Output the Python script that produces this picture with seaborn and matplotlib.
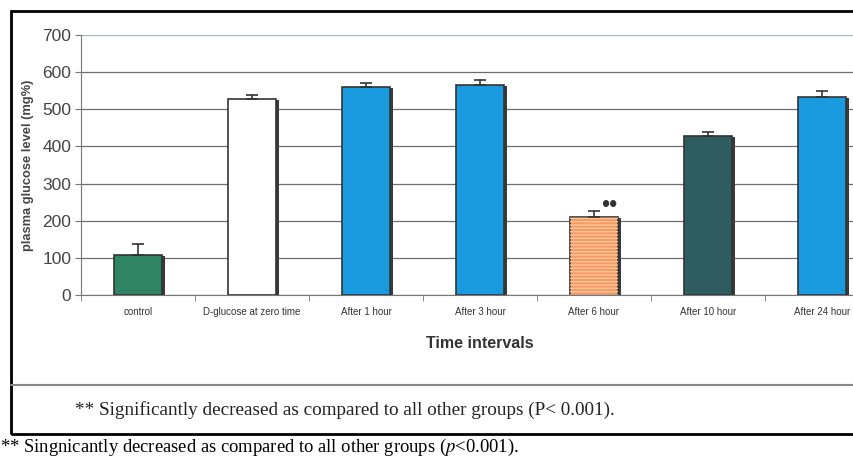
import numpy as np
import pandas as pd
import matplotlib
matplotlib.use('agg')
import seaborn as sns
import matplotlib.pyplot as plt
import matplotlib.patheffects as pe
from matplotlib.patches import Rectangle
from matplotlib.lines import Line2D

groups = ["control", "D-glucose at zero time", "After 1 hour", "After 3 hour",
          "After 6 hour", "After 10 hour", "After 24 hour"]
glucose = [108, 528, 561, 566, 210, 428, 534]
sem = [29, 11, 11, 12, 16, 12, 14]
colors = ["#2f8466", "#ffffff", "#1a9be0", "#1a9be0", "#f79a62", "#2f5c5e", "#1a9be0"]
yticks = [0, 100, 200, 300, 400, 500, 600, 700]


def main(output):
	df = pd.DataFrame({"group": groups, "glucose": glucose})

	sns.set_style("white")
	plt.rcParams['font.family'] = ['Liberation Sans', 'DejaVu Sans']
	plt.rcParams['mathtext.fontset'] = 'stix'

	fig = plt.figure(figsize=(8.54, 4.59), dpi=100)
	W, H = 854.0, 459.0
	# axes spans past the right edge of the picture, as in the scan
	ax = fig.add_axes([81 / W, 1 - 295 / H, 798 / W, 260 / H])

	sns.barplot(data=df, x="group", y="glucose", hue="group", palette=colors,
				legend=False, width=0.42, edgecolor="#333333", linewidth=1.2,
				saturation=1, ax=ax)
	shadow = [pe.SimplePatchShadow(offset=(2.5, -1), shadow_rgbFace="#3a3a3a", alpha=1), pe.Normal()]
	for p in ax.patches:
		p.set_path_effects(shadow)

	# stripes on the orange bar
	i6 = groups.index("After 6 hour")
	ax.bar(i6, glucose[i6], width=0.42, fill=False, hatch="-----",
		   edgecolor="#fbc49c", linewidth=0, zorder=3)

	ax.errorbar(range(len(groups)), glucose, yerr=[np.zeros(len(sem)), sem],
				fmt="none", ecolor="#333333", elinewidth=1.2, capsize=4, capthick=1.2, zorder=4)

	ax.text(i6 + 0.13, glucose[i6] + 30, "\u2022\u2022", fontsize=17,
			ha="center", va="center", color="#333333")

	ax.set_ylim(0, 700)
	ax.set_xlim(-0.5, len(groups) - 0.5)
	ax.set_yticks(yticks)
	ax.set_yticklabels([str(t) for t in yticks], fontsize=12.5, color="#444444")
	ax.yaxis.grid(True, color="#6e6e6e", linewidth=0.9)
	ax.get_ygridlines()[-1].set_color("#9fb8b4")
	ax.set_axisbelow(True)
	ax.tick_params(axis="y", left=True, length=4, color="#777777", pad=3)
	ax.tick_params(axis="x", bottom=False, labelsize=7, pad=5, colors="#333333")
	# tick marks between categories
	ax.set_xticks(np.arange(-0.5, len(groups), 1.0), minor=True)
	ax.tick_params(axis="x", which="minor", bottom=True, length=4, color="#777777")

	for s in ["top", "right"]:
		ax.spines[s].set_visible(False)
	ax.spines["left"].set_color("#777777")
	ax.spines["bottom"].set_color("#777777")

	ax.set_xlabel("Time intervals", fontsize=11.5, fontweight="bold", color="#333333", labelpad=14)
	ax.set_ylabel("plasma glucose level (mg%)", fontsize=9.3, fontweight="bold",
				  color="#444444", labelpad=6)

	# outer frame, divider line and footnotes
	fig.patches.append(Rectangle((11 / W, 1 - 434 / H), 1.0, (434 - 11) / H,
								 transform=fig.transFigure, fill=False,
								 edgecolor="black", linewidth=2))
	fig.lines.append(Line2D([11 / W, 1.0], [1 - 385 / H, 1 - 385 / H],
							transform=fig.transFigure, color="#888888", linewidth=1.5))
	fig.text(75 / W, 1 - 410 / H,
			 "** Significantly decreased as compared to all other groups (P< 0.001).",
			 fontsize=13.8, family="Liberation Serif", va="center", color="#222222")
	fig.text(0 / W, 1 - 447 / H,
			 "** Singnicantly decreased as compared to all other groups ($\\it{p}$<0.001).",
			 fontsize=13.4, family="Liberation Serif", va="center", color="black")

	fig.savefig(output, dpi=100)


if __name__ == "__main__":
	main("out.png")
